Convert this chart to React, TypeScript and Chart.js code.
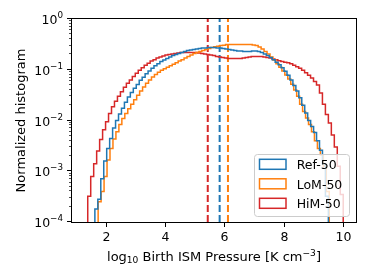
import { useEffect, useRef } from 'react';
import { Chart, registerables } from 'chart.js';

Chart.register(...registerables);

const FONT = "'DejaVu Sans', sans-serif";

// ---- data ----
const seriesNames = ['Ref-50', 'LoM-50', 'HiM-50'];
const seriesColors = ['#1f77b4', '#ff7f0e', '#d62728'];

// histogram bin range [first edge, last edge] and normalized counts
const refRange = [1.64, 9.5];
const refValues = [
  1.8e-4, 2.8e-4, 7.1e-4, 1.6e-3, 2.8e-3, 4.4e-3, 7.1e-3, 0.010, 0.0135, 0.0174,
  0.023, 0.029, 0.0355, 0.043, 0.051, 0.062, 0.071, 0.083, 0.095, 0.107,
  0.120, 0.132, 0.145, 0.155, 0.166, 0.178, 0.191, 0.200, 0.209, 0.219,
  0.229, 0.240, 0.245, 0.251, 0.257, 0.263, 0.269, 0.269, 0.275, 0.275,
  0.275, 0.269, 0.269, 0.263, 0.257, 0.251, 0.245, 0.240, 0.234, 0.234,
  0.229, 0.229, 0.229, 0.234, 0.234, 0.229, 0.219, 0.204, 0.191, 0.174,
  0.158, 0.141, 0.126, 0.110, 0.093, 0.078, 0.063, 0.049, 0.038, 0.028,
  0.020, 0.014, 0.010, 7.6e-3, 5.8e-3, 4.0e-3, 2.6e-3, 1.4e-3, 3.2e-4,
];

const lomRange = [1.75, 9.53];
const lomValues = [
  2.5e-4, 4.0e-4, 7.9e-4, 1.66e-3, 2.8e-3, 4.3e-3, 6.0e-3, 8.3e-3, 0.011, 0.0138,
  0.017, 0.021, 0.0257, 0.0316, 0.038, 0.0457, 0.054, 0.063, 0.072, 0.081,
  0.089, 0.098, 0.105, 0.112, 0.120, 0.129, 0.138, 0.148, 0.158, 0.170,
  0.182, 0.195, 0.209, 0.219, 0.229, 0.240, 0.251, 0.263, 0.275, 0.285,
  0.292, 0.299, 0.305, 0.313, 0.316, 0.316, 0.316, 0.316, 0.316, 0.316,
  0.316, 0.313, 0.309, 0.302, 0.282, 0.257, 0.229, 0.204, 0.178, 0.155,
  0.132, 0.112, 0.095, 0.079, 0.066, 0.052, 0.040, 0.030, 0.021, 0.0151,
  0.0112, 0.0083, 0.0060, 0.0040, 0.0028, 0.0021, 0.00126, 0.0004,
];

const himRange = [1.4, 10.0];
const himValues = [
  3.2e-4, 7.9e-4, 1.4e-3, 2.5e-3, 4.2e-3, 6.6e-3, 9.5e-3, 0.0138, 0.0186, 0.024,
  0.030, 0.037, 0.045, 0.054, 0.063, 0.074, 0.085, 0.098, 0.110, 0.123,
  0.135, 0.148, 0.158, 0.170, 0.178, 0.186, 0.195, 0.200, 0.204, 0.209,
  0.214, 0.219, 0.219, 0.219, 0.219, 0.219, 0.219, 0.214, 0.209, 0.204,
  0.200, 0.195, 0.191, 0.182, 0.178, 0.174, 0.170, 0.166, 0.166, 0.166,
  0.166, 0.166, 0.170, 0.174, 0.178, 0.182, 0.182, 0.182, 0.182, 0.178,
  0.174, 0.170, 0.162, 0.158, 0.151, 0.145, 0.141, 0.138, 0.132, 0.123,
  0.115, 0.107, 0.098, 0.087, 0.078, 0.069, 0.059, 0.050, 0.035, 0.021,
  0.0132, 0.0089, 0.0052, 0.0030, 0.00126, 0.00035,
];

// medians (dashed vertical lines), in series order Ref, LoM, HiM
const medianValues = [5.84, 6.12, 5.44];

const xTickValues = [2, 4, 6, 8, 10];
const yDecades = [-4, -3, -2, -1, 0];
const xLimits = [0.87, 10.43];
const yLimits = [1e-4, 1];

const FLOOR = 1e-7;

function stepPoints(range: number[], values: number[]) {
  const n = values.length;
  const w = (range[1] - range[0]) / n;
  const pts: { x: number; y: number }[] = [{ x: range[0], y: FLOOR }];
  for (let i = 0; i < n; i++) {
    const a = range[0] + i * w;
    const b = range[0] + (i + 1) * w;
    pts.push({ x: a, y: values[i] });
    pts.push({ x: b, y: values[i] });
  }
  pts.push({ x: range[1], y: FLOOR });
  return pts;
}

function drawMath(
  ctx: CanvasRenderingContext2D,
  parts: { t: string; s: number; dy: number }[],
  x: number,
  y: number,
  align: 'left' | 'center' | 'right',
  base: number
) {
  let total = 0;
  const widths = parts.map((p) => {
    ctx.font = `${base * p.s}px ${FONT}`;
    const w = ctx.measureText(p.t).width;
    total += w;
    return w;
  });
  let cx = align === 'left' ? x : align === 'center' ? x - total / 2 : x - total;
  parts.forEach((p, i) => {
    ctx.font = `${base * p.s}px ${FONT}`;
    ctx.fillText(p.t, cx, y + p.dy);
    cx += widths[i];
  });
}

const decorPlugin = {
  id: 'decor',
  afterDatasetsDraw(chart: any) {
    const ctx: CanvasRenderingContext2D = chart.ctx;
    const xs = chart.scales.x;
    const ys = chart.scales.y;
    const a = chart.chartArea;
    ctx.save();
    ctx.fillStyle = '#000';
    ctx.strokeStyle = '#000';
    ctx.textBaseline = 'alphabetic';
    ctx.textAlign = 'left';

    // spines
    ctx.lineWidth = 1;
    ctx.strokeRect(a.left - 0.5, a.top - 0.5, a.right - a.left + 1, a.bottom - a.top + 1);

    // x ticks
    xTickValues.forEach((v) => {
      const px = Math.round(xs.getPixelForValue(v)) + 0.5;
      ctx.beginPath();
      ctx.moveTo(px, a.bottom + 0.5);
      ctx.lineTo(px, a.bottom + 5);
      ctx.stroke();
      drawMath(ctx, [{ t: String(v), s: 1, dy: 0 }], px, a.bottom + 18.5, 'center', 12.5);
    });

    // y ticks (major + minor)
    yDecades.forEach((d) => {
      const py = Math.round(ys.getPixelForValue(Math.pow(10, d))) - 0.5;
      ctx.lineWidth = 1;
      ctx.beginPath();
      ctx.moveTo(a.left - 0.5, py);
      ctx.lineTo(a.left - 5, py);
      ctx.stroke();
      const sup = d === 0 ? '0' : '\u2212' + Math.abs(d);
      drawMath(
        ctx,
        [
          { t: '10', s: 1, dy: 0 },
          { t: sup, s: 0.7, dy: -5.5 },
        ],
        a.left - 9,
        py + 5,
        'right',
        12.5
      );
      if (d < 0) {
        for (let m = 2; m <= 9; m++) {
          const my = Math.round(ys.getPixelForValue(m * Math.pow(10, d))) - 0.5;
          ctx.lineWidth = 0.7;
          ctx.beginPath();
          ctx.moveTo(a.left - 0.5, my);
          ctx.lineTo(a.left - 3, my);
          ctx.stroke();
        }
      }
    });

    // x label
    drawMath(
      ctx,
      [
        { t: 'log', s: 1, dy: 0 },
        { t: '10', s: 0.7, dy: 2 },
        { t: ' Birth ISM Pressure [K cm', s: 1, dy: 0 },
        { t: '\u22123', s: 0.7, dy: -5 },
        { t: ']', s: 1, dy: 0 },
      ],
      (a.left + a.right) / 2,
      261,
      'center',
      13
    );

    // y label
    ctx.save();
    ctx.translate(24.5, (a.top + a.bottom) / 2);
    ctx.rotate(-Math.PI / 2);
    drawMath(ctx, [{ t: 'Normalized histogram', s: 1, dy: 0 }], 0, 0, 'center', 13);
    ctx.restore();

    // legend
    const lx = 254.5, ly = 154.5, lw = 95, lh = 62;
    ctx.beginPath();
    ctx.roundRect(lx, ly, lw, lh, 3);
    ctx.fillStyle = 'rgba(255,255,255,0.8)';
    ctx.fill();
    ctx.strokeStyle = '#cccccc';
    ctx.lineWidth = 1;
    ctx.stroke();
    seriesNames.forEach((name, i) => {
      const cy = 164.3 + i * 19.5;
      ctx.strokeStyle = seriesColors[i];
      ctx.lineWidth = 1.5;
      ctx.strokeRect(259.5, cy - 5, 26.5, 10);
      ctx.fillStyle = '#000';
      drawMath(ctx, [{ t: name, s: 1, dy: 0 }], 296.7, cy + 4.7, 'left', 12.5);
    });

    ctx.restore();
  },
};

export default function App() {
  const ref = useRef<HTMLCanvasElement | null>(null);
  useEffect(() => {
    document.body.style.margin = '0';
    const canvas = ref.current!;
    const hist = [
      { range: refRange, values: refValues },
      { range: lomRange, values: lomValues },
      { range: himRange, values: himValues },
    ];
    const datasets: any[] = hist.map((h, i) => ({
      label: seriesNames[i],
      data: stepPoints(h.range, h.values),
      borderColor: seriesColors[i],
      borderWidth: 1.5,
      pointRadius: 0,
      fill: false,
      tension: 0,
      borderJoinStyle: 'miter',
    }));
    medianValues.forEach((m, i) => {
      datasets.push({
        label: seriesNames[i] + ' median',
        data: [
          { x: m, y: yLimits[0] },
          { x: m, y: yLimits[1] },
        ],
        borderColor: seriesColors[i],
        borderWidth: 2,
        borderDash: [7, 3],
        pointRadius: 0,
        fill: false,
      });
    });
    const chart = new Chart(canvas, {
      type: 'line',
      data: { datasets },
      options: {
        animation: false,
        responsive: false,
        devicePixelRatio: 1,
        layout: { padding: { top: 19, right: 18, left: 0, bottom: 0 } },
        plugins: { legend: { display: false }, tooltip: { enabled: false } },
        scales: {
          x: {
            type: 'linear',
            min: xLimits[0],
            max: xLimits[1],
            ticks: { display: false },
            grid: { display: false },
            border: { display: false },
            afterFit: (s: any) => {
              s.height = 58;
            },
          },
          y: {
            type: 'logarithmic',
            min: yLimits[0],
            max: yLimits[1],
            ticks: { display: false },
            grid: { display: false },
            border: { display: false },
            afterFit: (s: any) => {
              s.width = 72;
            },
          },
        },
      },
      plugins: [decorPlugin],
    });
    return () => chart.destroy();
  }, []);
  return (
    <div style={{ position: 'absolute', left: 0, top: 0, width: 374, height: 280 }}>
      <canvas ref={ref} width={374} height={280} style={{ width: 374, height: 280 }} />
    </div>
  );
}
